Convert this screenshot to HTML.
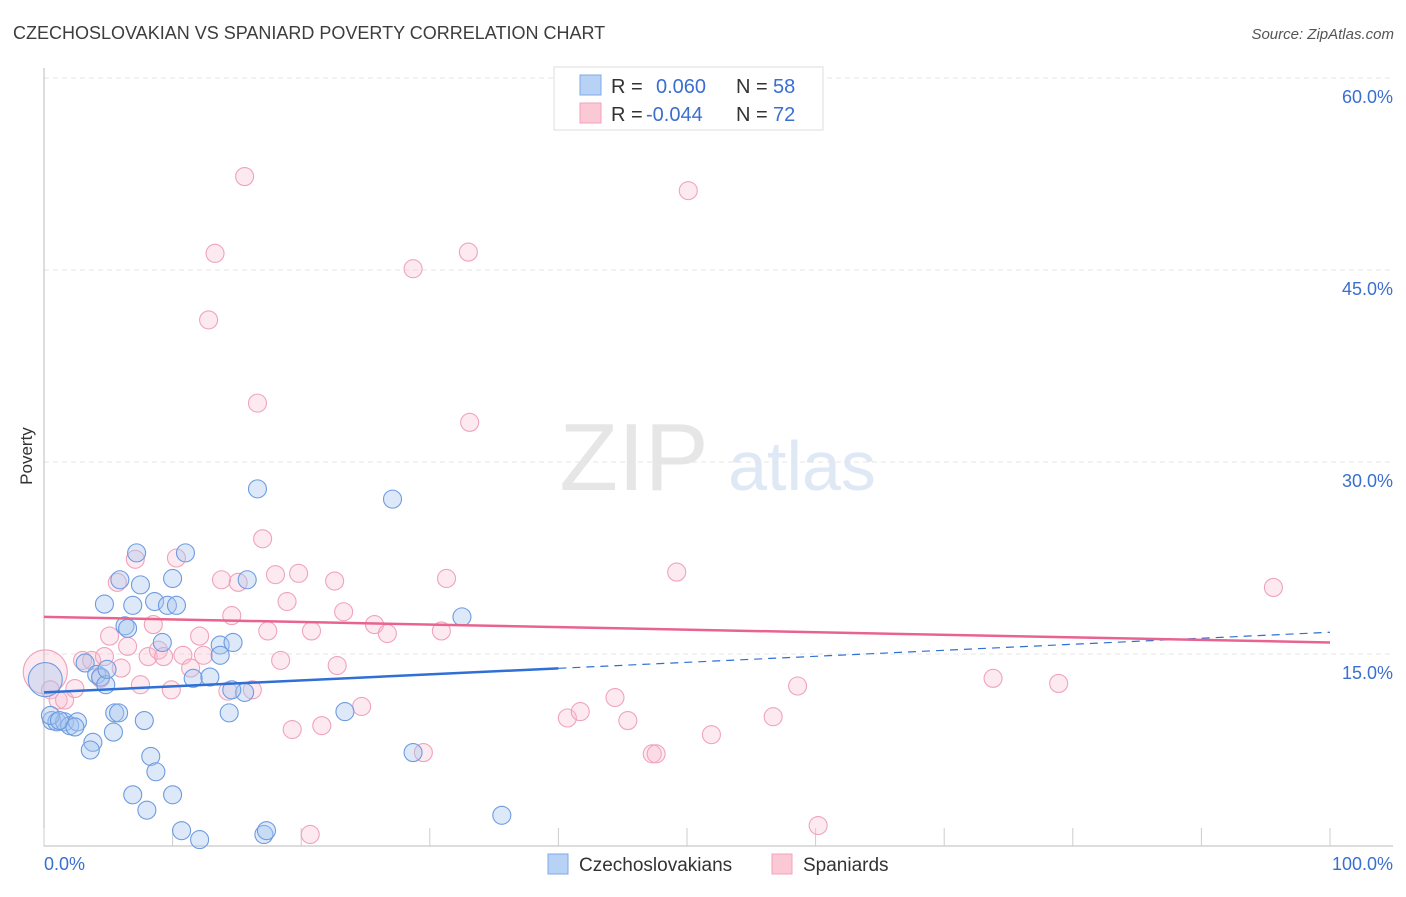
<!DOCTYPE html>
<html><head><meta charset="utf-8"><style>
body{margin:0;background:#fff;font-family:"Liberation Sans",sans-serif}
svg text{font-family:"Liberation Sans",sans-serif}
</style></head><body>
<svg id="chart" width="1406" height="892">
<text x="13" y="39" font-size="18" fill="#3d3d3d">CZECHOSLOVAKIAN VS SPANIARD POVERTY CORRELATION CHART</text>
<text x="1394" y="39" font-size="15" fill="#555" text-anchor="end" font-style="italic">Source: ZipAtlas.com</text>
<text x="32" y="456" font-size="17" fill="#333" text-anchor="middle" transform="rotate(-90 32 456)">Poverty</text>
<g>
<text x="634" y="490" font-size="96" fill="#e6e6e6" text-anchor="middle" font-family="Liberation Serif">ZIP</text>
<text x="802" y="490" font-size="70" fill="#dfe8f5" text-anchor="middle">atlas</text>
</g>
<g id="grid"></g>
<g id="marks"></g>
<g>
<rect x="554" y="67" width="269" height="63" fill="#fff" stroke="#ddd"/>
<rect x="580" y="75" width="21" height="20" fill="#b7d2f5" stroke="#7fa9e6"/>
<rect x="580" y="103" width="21" height="20" fill="#fbc8d6" stroke="#f0a3bb"/>
<text x="611" y="93" font-size="20" fill="#333">R =</text>
<text x="656" y="93" font-size="20" fill="#3a6fd0">0.060</text>
<text x="736" y="93" font-size="20" fill="#333">N =</text>
<text x="773" y="93" font-size="20" fill="#3a6fd0">58</text>
<text x="611" y="121" font-size="20" fill="#333">R =</text>
<text x="646" y="121" font-size="20" fill="#3a6fd0">-0.044</text>
<text x="736" y="121" font-size="20" fill="#333">N =</text>
<text x="773" y="121" font-size="20" fill="#3a6fd0">72</text>
</g>
<g>
<rect x="548" y="854" width="20" height="20" fill="#b7d2f5" stroke="#7fa9e6"/>
<text x="579" y="871" font-size="19" fill="#333">Czechoslovakians</text>
<rect x="772" y="854" width="20" height="20" fill="#fbc8d6" stroke="#f0a3bb"/>
<text x="803" y="871" font-size="19" fill="#333">Spaniards</text>
</g>
</svg>
<script>
const yTicks=[15,30,45,60];
const yTickLabels=["15.0%","30.0%","45.0%","60.0%"];
const xLabels=["0.0%","100.0%"];
const czX=[0.1,0.6,1.0,1.6,2.0,2.6,3.2,3.8,3.6,4.1,4.4,4.7,4.8,4.9,5.4,5.5,5.8,5.9,6.3,6.5,6.9,7.2,7.5,7.8,8.3,8.6,8.7,9.2,9.6,10.0,10.0,10.3,10.7,11.0,11.6,12.1,12.9,13.7,13.7,14.4,14.7,15.6,15.8,16.6,17.1,17.3,23.4,27.1,28.7,32.5,35.6,6.9,8.0,0.5,1.2,2.4,14.6];
const czY=[13.0,9.8,9.7,9.7,9.4,9.7,14.3,8.1,7.5,13.4,13.2,18.9,12.6,13.8,8.9,10.4,10.4,20.8,17.2,17.0,18.8,22.9,20.4,9.8,7.0,19.1,5.8,15.9,18.8,20.9,4.0,18.8,1.2,22.9,13.1,0.5,13.2,15.7,14.9,10.4,15.9,12.0,20.8,27.9,0.9,1.2,10.5,27.1,7.3,17.9,2.4,4.0,2.8,10.2,9.8,9.3,12.2];
const spX=[0.1,0.5,1.1,1.6,2.4,3.0,3.7,4.4,4.7,5.1,5.7,6.0,6.5,7.1,7.5,8.1,8.5,8.9,9.3,9.9,10.3,10.8,11.4,12.1,12.4,12.8,13.3,13.8,14.3,14.6,15.1,15.6,16.2,16.6,17.0,17.4,18.0,18.4,18.9,19.3,19.8,20.7,20.8,21.6,22.6,22.8,23.3,24.7,25.7,26.7,28.7,29.5,30.9,31.3,33.0,33.1,40.7,41.7,44.4,45.4,47.3,47.6,49.2,50.1,51.9,56.7,58.6,60.2,73.8,78.9,95.6];
const spY=[13.6,12.2,11.4,11.4,12.3,14.5,14.5,13.1,14.8,16.4,20.6,13.9,15.6,22.4,12.6,14.8,17.3,15.3,14.8,12.2,22.5,14.9,13.9,16.4,14.9,41.1,46.3,20.8,12.1,18.0,20.6,52.3,12.2,34.6,24.0,16.8,21.2,14.5,19.1,9.1,21.3,0.9,16.8,9.4,20.7,14.1,18.3,10.9,17.3,16.6,45.1,7.3,16.8,20.9,46.4,33.1,10.0,10.5,11.6,9.8,7.2,7.2,21.4,51.2,8.7,10.1,12.5,1.6,13.1,12.7,20.2];
const czTrend=[12.0,16.7];
const spTrend=[17.9,15.9];
const NS="http://www.w3.org/2000/svg";
const X=v=>44+v*12.86, Y=v=>846-v*12.8;
function mk(t,a,p){const e=document.createElementNS(NS,t);for(const k in a)e.setAttribute(k,a[k]);(p||document.getElementById('marks')).appendChild(e);return e;}
const g=document.getElementById('grid');
yTicks.forEach((t,i)=>{
 const l=mk('line',{x1:44,x2:1393,y1:Y(t),y2:Y(t),stroke:'#e4e4e4','stroke-dasharray':'5,4'},g);
 
 
 const tx=mk('text',{x:1393,y:Y(t)+25,'font-size':18,fill:'#3a6fd0','text-anchor':'end'},g);tx.textContent=yTickLabels[i];
 
 
});
const ax=mk('path',{d:'M44 68V846H1393',fill:'none',stroke:'#bbb'},g);


for(let k=0;k<=10;k++){const t=mk('line',{x1:X(k*10),x2:X(k*10),y1:828,y2:846,stroke:'#ccc'},g);
 
 }
[[0,'start',44],[100,'end',1393]].forEach((d,i)=>{const t=mk('text',{x:d[2],y:870,'font-size':18,fill:'#3a6fd0','text-anchor':d[1]},g);t.textContent=xLabels[i];
 
 });
spX.forEach((x,i)=>{const c=mk('circle',{cx:X(x),cy:Y(spY[i]),r:i==0?22:9,fill:'rgba(248,185,205,0.3)',stroke:'#f0a3bb','stroke-width':1.1});
 
 });
czX.forEach((x,i)=>{const c=mk('circle',{cx:X(x),cy:Y(czY[i]),r:i==0?17:9,fill:'rgba(165,198,240,0.38)',stroke:'#6e9be0','stroke-width':1.1});
 
 });
const czAt=x=>czTrend[0]+(czTrend[1]-czTrend[0])*x/100;
let l1=mk('line',{x1:X(0),y1:Y(czAt(0)),x2:X(40),y2:Y(czAt(40)),stroke:'#2f6fd6','stroke-width':2.5});


let l2=mk('line',{x1:X(40),y1:Y(czAt(40)),x2:X(100),y2:Y(czAt(100)),stroke:'#2f6fd6','stroke-width':1.2,'stroke-dasharray':'8,6'});


let l3=mk('line',{x1:X(0),y1:Y(spTrend[0]),x2:X(100),y2:Y(spTrend[1]),stroke:'#e8648e','stroke-width':2.5});


</script>
</body></html>
